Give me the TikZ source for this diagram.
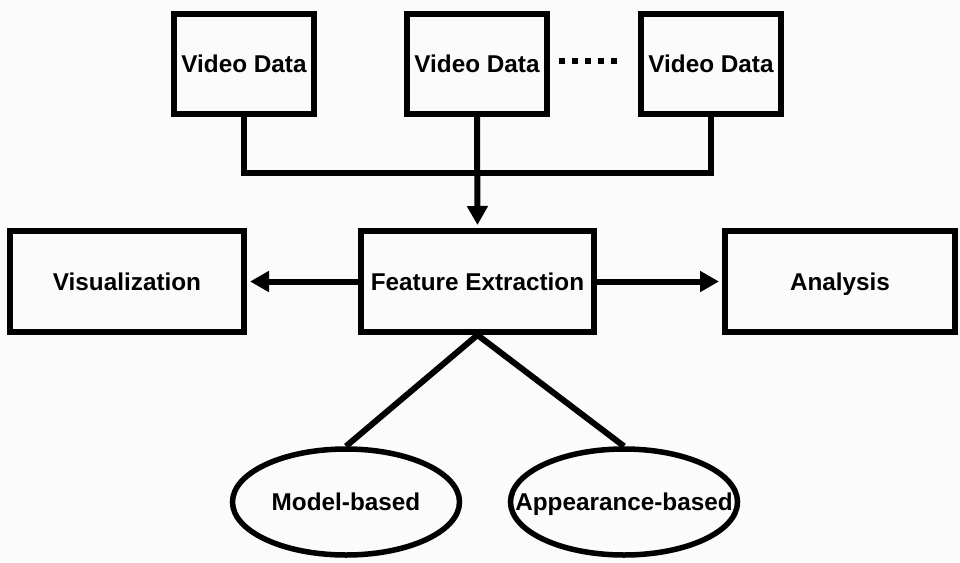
\documentclass[tikz,border=0pt]{standalone}
\usepackage{fontspec}
\setmainfont{Liberation Sans}
\usetikzlibrary{arrows.meta,shapes.geometric}
\definecolor{bgcol}{RGB}{251,251,251}
\begin{document}
\begin{tikzpicture}[x=1pt,y=-1pt,
  lbl/.style={font=\fontsize{24.3}{28}\selectfont\bfseries,text height=17.4pt,text depth=0pt},
  box/.style={lbl,draw,line width=6pt,minimum width=#1,minimum height=101pt,inner sep=0pt},
  vbox/.style={lbl,draw,line width=6pt,minimum width=140pt,minimum height=100pt,inner sep=0pt},
  ell/.style={lbl,draw,ellipse,line width=5.5pt,minimum width=227pt,minimum height=106pt,inner sep=0pt},
  conn/.style={line width=6pt},
  arr/.style={conn,-{Triangle[length=19pt,width=20pt]},shorten >=3pt},
  dotline/.style={line width=6pt,dash pattern=on 6pt off 7pt}
]
\fill[bgcol] (0,0) rectangle (960,562);
\node[vbox] (v1) at (244,64) {Video Data};
\node[vbox] (v2) at (477,64) {Video Data};
\node[vbox] (v3) at (711,64) {Video Data};
\node[box=233pt] (fe) at (477.5,281.5) {Feature Extraction};
\node[box=234pt] (vis) at (127,281.5) {Visualization};
\node[box=230pt] (an) at (840,281.5) {Analysis};
\node[ell] (mb) at (346,502) {\makebox[0pt]{Model-based}};
\node[ell] (ab) at (624,502) {\makebox[0pt]{Appearance-based}};
\coordinate (h) at (477,173);
\draw[dotline] ([xshift=9pt,yshift=3pt]v2.east) -- ([xshift=-14pt,yshift=3pt]v3.west);
\draw[conn] (v1.south) |- (h) -| (v3.south);
\draw[arr] (v2.south) -- (fe.north);
\draw[arr] (fe.west) -- (vis.east);
\draw[arr] (fe.east) -- (an.west);
\draw[conn] (fe.south) -- (mb.north);
\draw[conn] (fe.south) -- (ab.north);
\end{tikzpicture}
\end{document}
